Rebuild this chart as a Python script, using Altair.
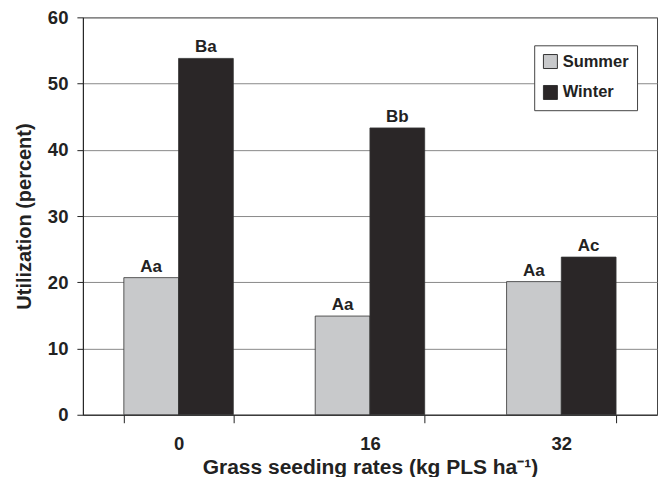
import altair as alt
import pandas as pd

rates = ["0", "16", "32"]
seasons = ["Summer", "Winter"]
summer = [20.7, 14.9, 20.1]
winter = [53.8, 43.3, 23.8]
summer_labels = ["Aa", "Aa", "Aa"]
winter_labels = ["Ba", "Bb", "Ac"]
y_ticks = [0, 10, 20, 30, 40, 50, 60]
colors = ["#c8c9cb", "#2a2627"]

rows = []
for i, r in enumerate(rates):
    rows.append({"rate": r, "season": "Summer", "value": summer[i], "label": summer_labels[i]})
    rows.append({"rate": r, "season": "Winter", "value": winter[i], "label": winter_labels[i]})
df = pd.DataFrame(rows)

FONT = "Liberation Sans"
TXT = "#222222"

x = alt.X(
    "rate:N",
    sort=rates,
    scale=alt.Scale(paddingInner=0.428, paddingOuter=0.214),
    axis=alt.Axis(
        title="Grass seeding rates (kg PLS ha\u207b\u00b9)",
        labelAngle=0,
        tickBand="extent",
        tickSize=8,
        tickColor="#222",
        domainColor="#222",
        labelPadding=12,
        labelFont=FONT,
        labelFontSize=18.5,
        labelFontWeight="bold",
        labelColor=TXT,
        titleFont=FONT,
        titleFontSize=21,
        titleFontWeight="bold",
        titleColor=TXT,
        titlePadding=3,
    ),
)
y = alt.Y(
    "value:Q",
    scale=alt.Scale(domain=[0, 60], nice=False),
    axis=alt.Axis(
        values=y_ticks,
        title="Utilization (percent)",
        grid=True,
        gridColor="#8a8a8a",
        gridWidth=1,
        tickSize=6,
        tickColor="#222",
        domainColor="#222",
        labelPadding=9,
        labelFont=FONT,
        labelFontSize=18.5,
        labelFontWeight="bold",
        labelColor=TXT,
        titleFont=FONT,
        titleFontSize=20,
        titleFontWeight="bold",
        titleColor=TXT,
        titlePadding=13,
    ),
)
xo = alt.XOffset("season:N", sort=seasons, scale=alt.Scale(paddingInner=0, paddingOuter=0))

bars = alt.Chart(df).mark_bar(stroke="#333333", strokeWidth=0.8).encode(
    x=x,
    y=y,
    xOffset=xo,
    color=alt.Color(
        "season:N",
        sort=seasons,
        scale=alt.Scale(domain=seasons, range=colors),
        legend=alt.Legend(
            title=None,
            orient="none",
            legendX=452,
            legendY=28,
            strokeColor="#444444",
            fillColor="white",
            padding=8,
            symbolType="square",
            symbolSize=196,
            symbolStrokeColor="#333333",
            symbolStrokeWidth=1,
            symbolOpacity=1,
            labelFont=FONT,
            labelFontSize=16.5,
            labelFontWeight="bold",
            labelColor=TXT,
            labelOffset=4,
            rowPadding=12,
        ),
    ),
)

text = alt.Chart(df).mark_text(
    dy=-6, baseline="alphabetic", font=FONT, fontSize=17, fontWeight="bold", color=TXT
).encode(x=x, y=y, xOffset=xo, text="label:N")

chart = (
    alt.layer(bars, text)
    .properties(
        width=575,
        height=398,
        autosize="none",
        padding={"left": 75, "top": 9, "right": 2, "bottom": 62},
    )
    .configure_view(stroke="#444444", strokeWidth=1)
)

chart.save("out.html", embed_options={"renderer": "svg", "actions": False})
